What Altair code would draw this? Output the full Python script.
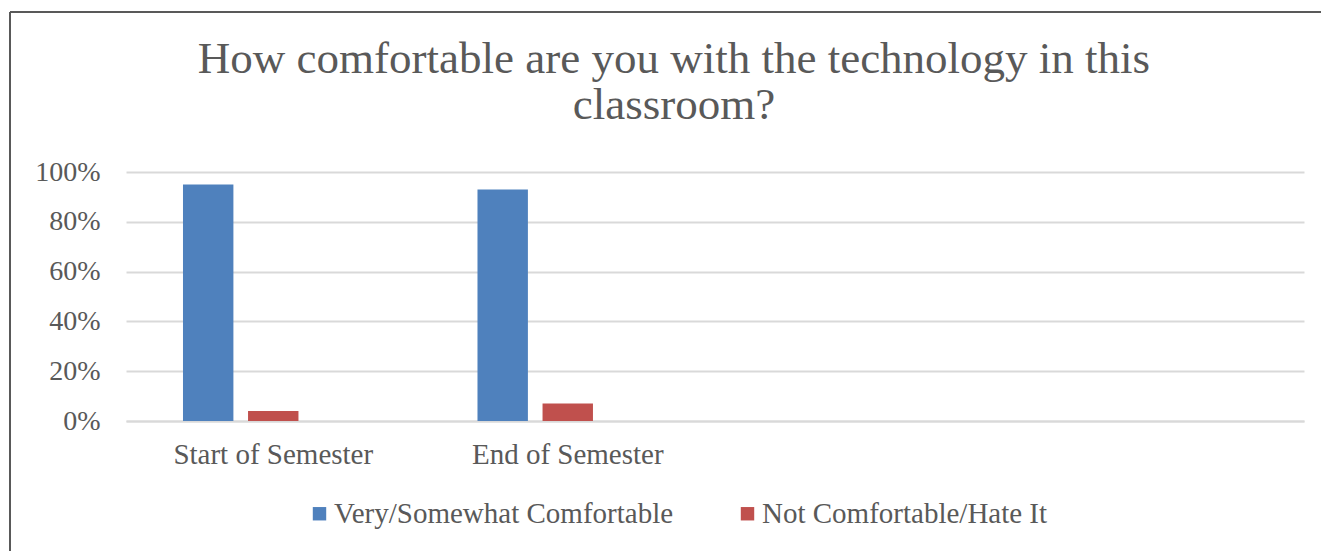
import altair as alt
import pandas as pd

# ---- data ----
categories = ["Start of Semester", "End of Semester"]
axis_slots = ["Start of Semester", "End of Semester", "slot 3", "slot 4"]
series = ["Very/Somewhat Comfortable", "Not Comfortable/Hate It"]
series_slots = ["Very/Somewhat Comfortable", "Not Comfortable/Hate It", "Series 3"]
very_comfortable = [0.95, 0.93]
not_comfortable = [0.04, 0.07]
colors = ["#4f81bd", "#c0504d"]
y_ticks = [0, 0.2, 0.4, 0.6, 0.8, 1.0]
title_lines = ["How comfortable are you with the technology in this", "classroom?"]

rows = []
for c, v, n in zip(categories, very_comfortable, not_comfortable):
    rows.append({"cat": c, "series": series[0], "value": v})
    rows.append({"cat": c, "series": series[1], "value": n})
df = pd.DataFrame(rows)

FONT = "Liberation Serif"
TXT = "#595959"
GRID = "#d9d9d9"

bars = alt.Chart(df).mark_bar().encode(
    x=alt.X(
        "cat:N",
        scale=alt.Scale(domain=axis_slots, paddingInner=0.387, paddingOuter=0.1935),
        axis=alt.Axis(
            title=None,
            labelAngle=0,
            ticks=False,
            labelExpr="indexof(datum.label, 'slot') == 0 ? '' : datum.label",
            labelLimit=0,
            domainColor=GRID,
            domainWidth=2,
            labelFont=FONT,
            labelFontSize=29,
            labelColor=TXT,
            labelPadding=19,
        ),
    ),
    xOffset=alt.XOffset(
        "series:N",
        scale=alt.Scale(domain=series_slots, paddingInner=0.225, paddingOuter=0),
    ),
    y=alt.Y(
        "value:Q",
        scale=alt.Scale(domain=[0, 1]),
        axis=alt.Axis(
            title=None,
            format=".0%",
            values=y_ticks,
            domain=False,
            ticks=False,
            gridColor=GRID,
            gridWidth=2,
            labelFont=FONT,
            labelFontSize=28,
            labelColor=TXT,
            labelPadding=26,
        ),
    ),
    color=alt.Color(
        "series:N",
        scale=alt.Scale(domain=series, range=colors),
        legend=alt.Legend(
            title=None,
            orient="none",
            direction="horizontal",
            legendX=179,
            legendY=327,
            symbolType="square",
            symbolSize=180,
            symbolStrokeWidth=0,
            labelFont=FONT,
            labelFontSize=29,
            labelLimit=0,
            labelColor=TXT,
            labelOffset=0,
            columnPadding=59,
        ),
    ),
)

frame_top = alt.Chart(df).mark_rule(color="#595959", strokeWidth=1.5).encode(
    x=alt.value(-116), x2=alt.value(1220), y=alt.value(-160)
)
frame_left = alt.Chart(df).mark_rule(color="#595959", strokeWidth=1.5).encode(
    x=alt.value(-116), y=alt.value(-160), y2=alt.value(400)
)

chart = (
    alt.layer(bars, frame_top, frame_left)
    .properties(
        width=1178,
        height=249,
        autosize=alt.AutoSizeParams(type="none"),
        padding={"left": 118, "top": 164, "right": 17, "bottom": 130},
        background="white",
        title=alt.TitleParams(
            text=title_lines,
            anchor="middle",
            dx=-41,
            dy=117,
            font=FONT,
            fontSize=45,
            fontWeight="normal",
            color=TXT,
            lineHeight=46,
            offset=0,
        ),
    )
    .configure_view(stroke=None)
)

chart.save("out.html", embed_options={"renderer": "svg", "actions": False})
